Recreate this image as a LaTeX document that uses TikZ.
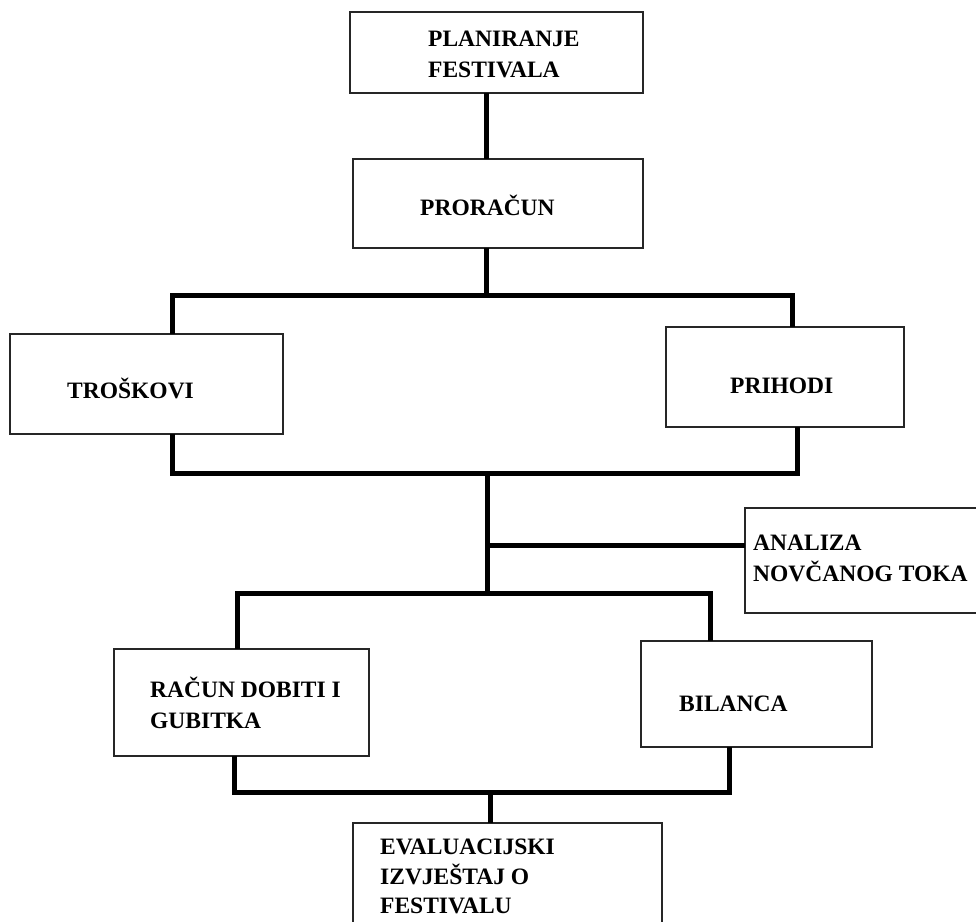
\documentclass[tikz,border=0pt]{standalone}
\usepackage{fontspec}
\setmainfont{Liberation Serif}
\begin{document}
\begin{tikzpicture}[x=1pt,y=-1pt,
  box/.style={draw=black!85, line width=1.6pt, rectangle, inner sep=0pt, outer sep=0pt},
  conn/.style={draw=black, line width=5pt, line join=miter},
  lbl/.style={anchor=base west, inner sep=0pt, font=\fontsize{23.5}{28}\selectfont\bfseries, text=black}]
\useasboundingbox (0,0) rectangle (976,921);
\clip (0,0) rectangle (976,921);
% boxes
\node[box, minimum width=293, minimum height=81]  (b1)  at (496.5,52.5) {};
\node[box, minimum width=290, minimum height=89]  (b2)  at (498,203.5) {};
\node[box, minimum width=273, minimum height=100] (tro) at (146.5,384) {};
\node[box, minimum width=238, minimum height=100] (pri) at (785,377) {};
\node[box, minimum width=245, minimum height=105] (ana) at (867.5,560.5) {};
\node[box, minimum width=255, minimum height=107] (rac) at (241.5,702.5) {};
\node[box, minimum width=231, minimum height=106] (bil) at (756.5,694) {};
\node[box, minimum width=309, minimum height=117] (eva) at (507.5,881.5) {};
% texts
\node[lbl] (t1a) at (428,46) {PLANIRANJE};
\node[lbl] (t1b) at (428,77) {FESTIVALA};
\node[lbl] (t2)  at (420,215) {PRORAČUN};
\node[lbl] (t3)  at (67,398) {TROŠKOVI};
\node[lbl] (t4)  at (730,393) {PRIHODI};
\node[lbl] (t5a) at (753,550) {ANALIZA};
\node[lbl] (t5b) at (753,581) {NOVČANOG TOKA};
\node[lbl] (t6a) at (150,697) {RAČUN DOBITI I};
\node[lbl] (t6b) at (150,728) {GUBITKA};
\node[lbl] (t7)  at (679,711) {BILANCA};
\node[lbl] (t8a) at (380,854) {EVALUACIJSKI};
\node[lbl] (t8b) at (380,884) {IZVJEŠTAJ O};
\node[lbl] (t8c) at (380,913) {FESTIVALU};
% junction coordinates
\coordinate (xA) at (486,0);
\coordinate (L1) at (172,295);
\coordinate (R1) at (792,295);
\coordinate (J1) at (486,295);
\coordinate (L2) at (172,473);
\coordinate (R2) at (797,473);
\coordinate (J2) at (487,473);
\coordinate (J25) at (487,545);
\coordinate (J3) at (487,593);
\coordinate (L3) at (237,593);
\coordinate (R3) at (710,593);
\coordinate (L4) at (234,792);
\coordinate (R4) at (729,792);
\coordinate (J4) at (490,792);
% connectors
\draw[conn] (b1.south -| xA) -- (b2.north -| xA);
\draw[conn] (b2.south -| xA) -- (J1);
\draw[conn] (tro.north -| L1) -- (L1) -- (R1) -- (pri.north -| R1);
\draw[conn] (tro.south -| L2) -- (L2) -- (R2) -- (pri.south -| R2);
\draw[conn] (J2) -- (J3);
\draw[conn] (J25) -- (ana.west |- J25);
\draw[conn] (rac.north -| L3) -- (L3) -- (R3) -- (bil.north -| R3);
\draw[conn] (rac.south -| L4) -- (L4) -- (R4) -- (bil.south -| R4);
\draw[conn] (J4) -- (eva.north -| J4);
\end{tikzpicture}
\end{document}
